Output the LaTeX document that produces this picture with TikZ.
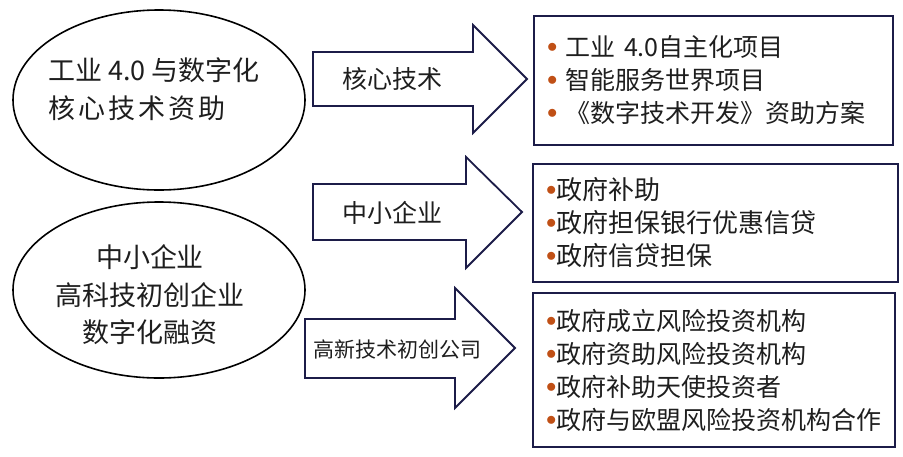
\documentclass[tikz,border=0pt]{standalone}
\usepackage{fontspec}
\setmainfont{Noto Sans CJK SC}
\usetikzlibrary{shapes.geometric}
\definecolor{navy}{RGB}{28,28,72}
\definecolor{rust}{RGB}{192,80,22}
\definecolor{ink}{RGB}{30,30,30}
\newcommand{\bul}{\raisebox{4pt}{\textcolor{rust}{\fontsize{20}{20}\selectfont$\bullet$}}}

\begin{document}
\begin{tikzpicture}[x=1pt, y=-1pt, text=ink,
    oval/.style={ellipse, draw=black, line width=1.6pt, inner sep=0pt},
    flow/.style={draw=navy, line width=1.8pt, line join=miter},
    list/.style={rectangle, draw=navy, line width=2.2pt, inner xsep=13pt,
      align=left, font=\fontsize{25}{33}\selectfont}]

  \useasboundingbox (0,0) rectangle (903,456);

  % left ovals
  \node[oval, minimum width=292pt, minimum height=180pt] (tech) at (159,100) {};
  \node[align=left, font=\fontsize{27}{38}\selectfont] (techtxt) at (154,89)
    {工业 4.0 与数字化\\{\addfontfeature{LetterSpace=11}核心技术资助}};
  \node[oval, minimum width=292pt, minimum height=176pt] (sme) at (159,290) {};
  \node[align=center, font=\fontsize{27}{37.5}\selectfont] (smetxt) at (150,295)
    {中小企业\\高科技初创企业\\数字化融资};

  % block arrows
  \draw[flow] (313,52) -- (473,52) -- (473,25) -- (527,79) -- (473,133)
    -- (473,106) -- (313,106) -- cycle;
  \node[font=\fontsize{25}{25}\selectfont] (corearr) at (392,79) {核心技术};
  \draw[flow] (313,184) -- (466,184) -- (466,157) -- (522,212) -- (466,268)
    -- (466,240) -- (313,240) -- cycle;
  \node[font=\fontsize{25}{25}\selectfont] (smearr) at (392,213) {中小企业};
  \draw[flow] (305,319) -- (455,319) -- (455,288) -- (515,348) -- (455,408)
    -- (455,378) -- (305,378) -- cycle;
  \node[font=\fontsize{21}{21}\selectfont] (startarr) at (397,349) {高新技术初创公司};

  % bullet lists
  \node[list, minimum width=359pt, minimum height=129pt, text width=333pt]
    (techbox) at (713.5,80.5)
    {\bul\ 工业 4.0自主化项目\\\bul\ 智能服务世界项目\\\bul\ 《数字技术开发》资助方案};
  \node[list, minimum width=365pt, minimum height=118pt, text width=339pt,
    font=\fontsize{26}{33}\selectfont]
    (smebox) at (715.5,223)
    {\bul 政府补助\\\bul 政府担保银行优惠信贷\\\bul 政府信贷担保};
  \node[list, minimum width=362pt, minimum height=154pt, text width=336pt]
    (startbox) at (714,370)
    {\bul 政府成立风险投资机构\\\bul 政府资助风险投资机构\\\bul 政府补助天使投资者\\\bul 政府与欧盟风险投资机构合作};
\end{tikzpicture}
\end{document}
